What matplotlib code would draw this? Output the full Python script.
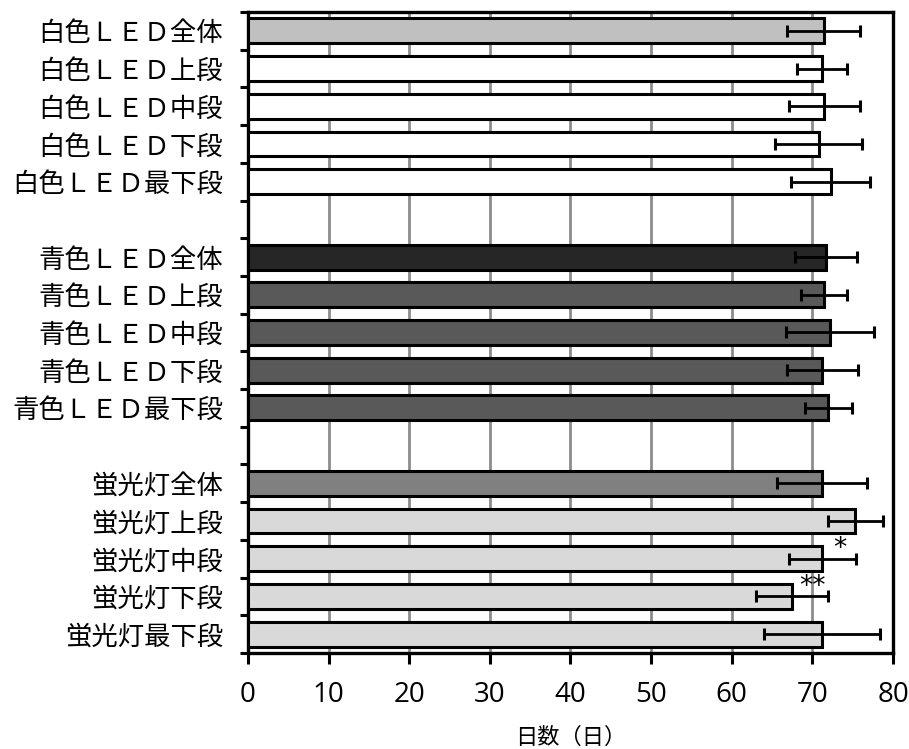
import numpy as np
import matplotlib.pyplot as plt

plt.rcParams['font.family'] = ['Noto Sans CJK JP', 'DejaVu Sans']

# groups of bars, top to bottom
white_labels = ["白色ＬＥＤ全体", "白色ＬＥＤ上段", "白色ＬＥＤ中段", "白色ＬＥＤ下段", "白色ＬＥＤ最下段"]
white_vals = [71.4, 71.2, 71.5, 70.8, 72.3]
white_err = [4.5, 3.05, 4.45, 5.4, 4.9]

blue_labels = ["青色ＬＥＤ全体", "青色ＬＥＤ上段", "青色ＬＥＤ中段", "青色ＬＥＤ下段", "青色ＬＥＤ最下段"]
blue_vals = [71.7, 71.4, 72.2, 71.2, 72.0]
blue_err = [3.85, 2.85, 5.5, 4.4, 2.9]

fl_labels = ["蛍光灯全体", "蛍光灯上段", "蛍光灯中段", "蛍光灯下段", "蛍光灯最下段"]
fl_vals = [71.2, 75.3, 71.2, 67.5, 71.2]
fl_err = [5.6, 3.4, 4.15, 4.5, 7.15]
fl_marks = ["", "", "*", "**", ""]

groups = [
    (white_labels, white_vals, white_err, ["#c0c0c0"] + ["#ffffff"] * 4),
    (blue_labels, blue_vals, blue_err, ["#262626"] + ["#595959"] * 4),
    (fl_labels, fl_vals, fl_err, ["#808080"] + ["#d9d9d9"] * 4),
]

fig = plt.figure(figsize=(9.09, 7.49), dpi=100)
ax = fig.add_axes([0.2728, 0.1282, 0.9824 - 0.2728, 0.984 - 0.1282])

centers, labels = [], []
slot = 0
for gi, (labs, vals, errs, cols) in enumerate(groups):
    y = np.arange(len(vals)) + slot + 0.5
    ax.barh(y, vals, height=0.66, color=cols, edgecolor="black", linewidth=2.2, zorder=3)
    ax.errorbar(vals, y, xerr=errs, fmt="none", ecolor="black", elinewidth=2.0,
                capsize=4.5, capthick=2.2, zorder=4)
    centers.extend(y)
    labels.extend(labs)
    if gi == 2:
        for yy, v, e, m in zip(y, vals, errs, fl_marks):
            if m:
                ax.text(v + e - 2.0, yy - 0.25, m, ha="center", va="center",
                        fontsize=19, family="DejaVu Sans", zorder=5)
    slot += len(vals) + 1

nslots = slot - 1
ax.set_ylim(nslots, 0)
ax.set_xlim(0, 80)
ax.set_xticks(np.arange(0, 81, 10))
ax.set_xticklabels([str(v) for v in range(0, 81, 10)], family="Open Sans", fontsize=20)
ax.set_yticks(np.arange(0, nslots + 1))
ax.set_yticklabels([])
ax.set_yticks(centers, minor=True)
ax.set_yticklabels(labels, minor=True, fontsize=19)
ax.tick_params(axis="y", which="minor", length=0, pad=18)
ax.tick_params(axis="y", which="major", length=6, width=2.2, direction="out")
ax.tick_params(axis="x", length=8, width=2.2, direction="out", pad=12)

ax.xaxis.grid(True, color="#8c8c8c", linewidth=2.0, zorder=0)
ax.set_axisbelow(True)
for s in ax.spines.values():
    s.set_linewidth(2.4)

ax.set_xlabel("日数（日）", fontsize=16, labelpad=12)

fig.savefig("out.png", dpi=100)
